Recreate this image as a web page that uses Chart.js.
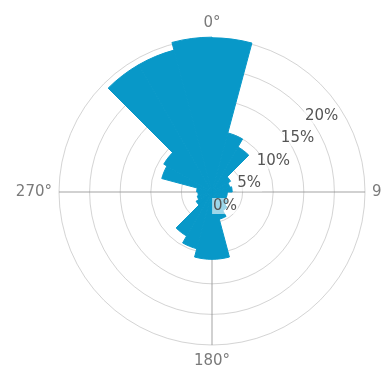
<!DOCTYPE html>
<html>
<head>
<meta charset="utf-8">
<script src="https://cdn.jsdelivr.net/npm/chart.js@4.4.1/dist/chart.umd.min.js"></script>
<style>
  html, body { margin: 0; padding: 0; background: #fff; overflow: hidden; }
  body { width: 382px; height: 374px; position: relative; }
  #rose { position: absolute; left: -10px; top: 0; }
</style>
</head>
<body>
<canvas id="rose" width="444" height="384"></canvas>
<script>
// 15 degree direction bins, clockwise from north
const binLabels = ['0°', '15°', '30°', '45°', '60°', '75°', '90°', '105°', '120°', '135°', '150°', '165°',
                   '180°', '195°', '210°', '225°', '240°', '255°', '270°', '285°', '300°', '315°', '330°', '345°'];
// share of observations per bin, in percent
const windPct = [25.2, 10, 8.5, 3.5, 3, 3.3, 2.5, 2.5, 3, 3.5, 4.6, 11,
                 11, 9.6, 8.3, 3, 2.5, 2.3, 2.5, 8.5, 9.1, 24, 24, 25.3];
const rTicks = [0, 5, 10, 15, 20];
const rMax = 25;

const barColor = 'rgb(8, 152, 200)';

// radial tick labels sit on a slanted ray, the way the original does it
const slantedTicks = {
    id: 'slantedTicks',
    afterDraw(chart) {
        const scale = chart.scales.r;
        const ctx = chart.ctx;
        const a = 47 * Math.PI / 180;
        ctx.save();
        ctx.font = '15px "DejaVu Sans", sans-serif';
        ctx.textAlign = 'center';
        ctx.textBaseline = 'middle';
        rTicks.forEach(v => {
            const r = scale.getDistanceFromCenterForValue(v) * 1.08;
            const x = scale.xCenter + r * Math.sin(a) + 13;
            const y = scale.yCenter - r * Math.cos(a) + 14;
            const text = v + '%';
            const w = ctx.measureText(text).width;
            ctx.fillStyle = 'rgba(255,255,255,0.6)';
            ctx.fillRect(x - w / 2 - 1, y - 8, w + 2, 16);
            ctx.fillStyle = '#555';
            ctx.fillText(text, x, y);
        });
        ctx.restore();
    }
};

const ctx = document.getElementById('rose').getContext('2d');

new Chart(ctx, {
    type: 'polarArea',
    data: {
        labels: binLabels,
        datasets: [{
            data: windPct,
            backgroundColor: barColor,
            borderColor: barColor,   // hides the seams between wedges
            borderWidth: 1
        }]
    },
    options: {
        responsive: false,
        animation: false,
        layout: { padding: { top: 14, bottom: 14, left: 0, right: 0 } },
        plugins: {
            legend: { display: false },
            tooltip: { enabled: false }
        },
        scales: {
            r: {
                z: 1,
                min: 0,
                max: rMax,
                startAngle: 0,
                ticks: { display: false, stepSize: 5 },
                grid: {
                    circular: true,
                    color: 'rgba(170,170,170,0.5)',
                    lineWidth: 1
                },
                angleLines: {
                    display: true,
                    lineWidth: c => (c.index % 6 === 0 ? 1 : 0),
                    color: c => (c.index === 0 ? 'rgba(255,255,255,0.55)' : 'rgba(140,140,140,0.8)')
                },
                pointLabels: {
                    display: true,
                    padding: 7,
                    color: '#7a7a7a',
                    font: { family: 'DejaVu Sans', size: 15, lineHeight: 1.2 },
                    callback: (label, i) => (i % 6 === 0 ? label : '')
                }
            }
        }
    },
    plugins: [slantedTicks]
});
</script>
</body>
</html>
